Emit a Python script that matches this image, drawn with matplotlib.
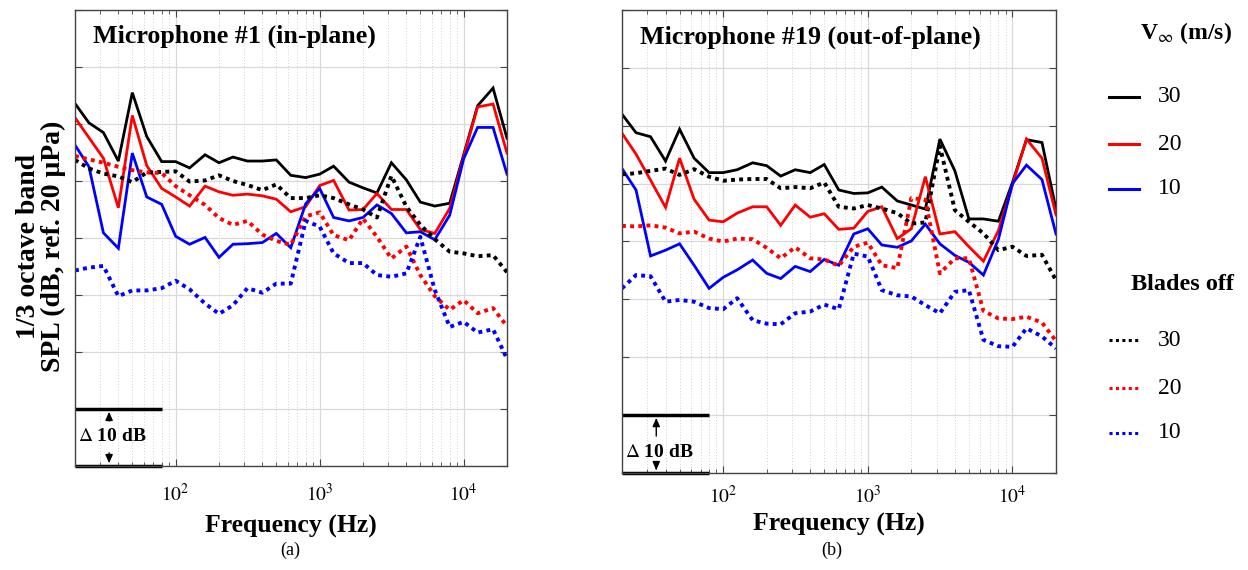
import numpy as np
import matplotlib.pyplot as plt
from matplotlib.lines import Line2D
from matplotlib.ticker import LogLocator, NullFormatter, FixedLocator

plt.rcParams['font.family'] = ['Liberation Serif', 'DejaVu Serif']
plt.rcParams['mathtext.fontset'] = 'stix'

# 1/3 octave band centre frequencies (Hz)
freq = [20, 25, 31.5, 40, 50, 63, 80, 100, 125, 160, 200, 250, 315, 400, 500, 630,
        800, 1000, 1250, 1600, 2000, 2500, 3150, 4000, 5000, 6300, 8000, 10000,
        12500, 16000, 20000]

# microphone #1 (in-plane), relative SPL in dB
m1_on_30 = [63.6, 60.2, 58.5, 53.5, 65.5, 57.8, 53.4, 53.4, 52.3, 54.6, 53.2, 54.2, 53.5, 53.5, 53.7, 51.0,
            50.6, 51.2, 52.6, 49.8, 48.8, 47.9, 53.2, 50.2, 46.3, 45.6, 46.1, 54.6, 63.2, 66.3, 57.5]
m1_on_20 = [61.1, 57.6, 54.0, 45.3, 61.5, 52.7, 48.7, 47.2, 45.6, 49.1, 48.1, 47.5, 47.7, 47.4, 46.8, 44.6,
            45.5, 49.2, 50.1, 44.9, 45.0, 47.8, 45.0, 45.0, 41.5, 40.8, 45.2, 54.3, 63.0, 63.5, 54.9]
m1_on_10 = [56.3, 52.5, 40.9, 38.2, 54.9, 47.2, 45.9, 40.3, 38.9, 40.1, 36.6, 38.9, 39.0, 39.2, 40.8, 38.3,
            46.0, 48.7, 43.6, 43.0, 43.6, 45.8, 44.3, 40.9, 41.1, 39.7, 44.0, 53.9, 59.4, 59.4, 51.2]
m1_off_30 = [53.7, 52.2, 51.3, 50.8, 49.8, 51.5, 51.6, 51.7, 49.9, 50.1, 51.0, 50.0, 49.3, 48.4, 49.4, 47.0,
             47.0, 47.5, 47.0, 45.9, 45.0, 43.6, 50.9, 45.5, 42.3, 39.8, 37.6, 37.3, 36.8, 37.0, 34.0]
m1_off_20 = [54.4, 53.8, 53.2, 52.5, 51.9, 51.5, 51.4, 49.1, 47.5, 45.8, 43.5, 42.3, 43.0, 40.6, 39.5, 38.8,
             43.8, 44.5, 40.5, 39.6, 43.4, 40.2, 36.4, 38.5, 33.5, 29.8, 27.4, 29.1, 26.8, 27.7, 24.5]
m1_off_10 = [34.3, 34.8, 35.1, 29.8, 30.8, 30.8, 31.2, 32.5, 31.0, 28.5, 26.7, 28.2, 31.2, 30.4, 32.0, 32.0,
             43.0, 42.0, 37.3, 35.6, 35.6, 33.5, 33.2, 33.8, 40.2, 30.9, 24.4, 25.3, 23.4, 24.0, 18.8]

# microphone #19 (out-of-plane)
m19_on_30 = [62.0, 58.8, 58.1, 53.9, 59.4, 54.4, 51.9, 51.9, 52.4, 53.6, 53.1, 51.3, 52.4, 51.9, 53.3, 48.9,
             48.3, 48.4, 49.4, 47.0, 46.3, 45.6, 57.7, 52.2, 43.9, 43.9, 43.5, 50.2, 57.6, 57.1, 45.6]
m19_on_20 = [58.7, 55.1, 50.6, 45.9, 54.4, 47.3, 43.7, 43.4, 44.9, 46.0, 46.0, 42.8, 46.3, 44.2, 44.8, 42.1,
             42.3, 45.2, 46.0, 40.5, 42.2, 51.2, 41.3, 41.7, 39.1, 36.6, 41.9, 49.8, 57.7, 54.4, 44.6]
m19_on_10 = [52.6, 48.9, 37.5, 38.5, 39.6, 35.9, 31.9, 33.8, 35.1, 36.8, 34.5, 33.6, 35.7, 34.8, 36.9, 35.9,
             41.3, 42.2, 39.4, 39.0, 40.1, 43.0, 39.6, 37.6, 36.4, 34.2, 40.4, 50.0, 53.2, 50.7, 41.3]
m19_off_30 = [51.6, 51.8, 52.2, 52.6, 51.5, 52.5, 51.2, 50.5, 50.7, 50.8, 50.8, 49.2, 49.4, 49.2, 50.2, 46.0,
              45.7, 46.3, 45.7, 44.9, 43.1, 43.3, 56.5, 45.4, 43.4, 41.4, 38.5, 39.1, 37.5, 37.7, 33.3]
m19_off_20 = [42.7, 42.6, 42.8, 42.4, 41.4, 41.7, 40.5, 40.0, 40.5, 40.4, 38.9, 37.1, 39.0, 37.1, 36.9, 35.8,
              39.1, 39.8, 35.9, 35.4, 47.5, 47.2, 34.5, 37.1, 37.1, 28.0, 26.7, 26.6, 27.0, 26.0, 22.8]
m19_off_10 = [31.9, 34.2, 34.0, 29.6, 29.9, 29.6, 28.5, 28.3, 30.2, 26.4, 25.8, 25.7, 27.6, 27.9, 29.1, 28.3,
              37.9, 37.4, 31.6, 30.7, 30.5, 29.0, 27.6, 31.3, 31.6, 23.0, 21.9, 21.8, 25.0, 23.6, 21.5]

speeds = ['30', '20', '10']
colors = ['#000000', '#ff0000', '#0000ff']
titles = ['Microphone #1 (in-plane)', 'Microphone #19 (out-of-plane)']
panel_tags = ['(a)', '(b)']

W, H = 1248, 570
fig = plt.figure(figsize=(W / 100, H / 100), dpi=100)

def px(x, y):
    return x / W, 1 - y / H

ax1 = fig.add_axes([75 / W, 1 - 466 / H, 432 / W, 456 / H])
ax2 = fig.add_axes([622 / W, 1 - 473 / H, 434 / W, 463 / H])

panels = [
    (ax1, [m1_on_30, m1_on_20, m1_on_10], [m1_off_30, m1_off_20, m1_off_10], 12, 7, 5.1),
    (ax2, [m19_on_30, m19_on_20, m19_on_10], [m19_off_30, m19_off_20, m19_off_10], 9, 4, 3.6),
]

dot = (0, (1.0, 1.1))
for i, (ax, on, off, tpad, lpad, ty) in enumerate(panels):
    for ys, c in zip(on, colors):
        ax.plot(freq, ys, color=c, lw=2.0, solid_joinstyle='miter')
    for ys, c in zip(off, colors):
        ax.plot(freq, ys, color=c, lw=2.8, linestyle=dot)
    ax.set_xscale('log')
    ax.set_xlim(20, 20000)
    ax.set_ylim(0, 80)
    ax.set_yticks(np.arange(0, 81, 10))
    ax.set_yticklabels([])
    ax.xaxis.set_major_locator(FixedLocator([100, 1000, 10000]))
    ax.xaxis.set_minor_locator(LogLocator(base=10, subs=np.arange(2, 10), numticks=20))
    ax.xaxis.set_minor_formatter(NullFormatter())
    ax.set_xticklabels([r'$10^2$', r'$10^3$', r'$10^4$'])
    ax.tick_params(axis='both', which='both', direction='in', top=True, right=True,
                   color='#444444', labelsize=14)
    ax.tick_params(axis='both', which='major', length=5)
    ax.tick_params(axis='x', which='minor', length=3)
    ax.tick_params(axis='x', pad=tpad)
    ax.grid(True, which='major', color='#d9d9d9', lw=0.9)
    ax.grid(True, which='minor', axis='x', color='#d0d0d0', lw=0.7, linestyle=(0, (1, 2)))
    ax.set_axisbelow(True)
    for s in ax.spines.values():
        s.set_color('#444444')
        s.set_linewidth(1.0)
    ax.text(0.042, 0.942, titles[i], transform=ax.transAxes, fontsize=18.7,
            fontweight='bold', ha='left', va='center')
    ax.set_xlabel('Frequency (Hz)', fontsize=18.5, fontweight='bold', labelpad=lpad)

    # 10 dB scale bar
    ax.plot([20, 80], [10, 10], color='k', lw=2.5, clip_on=False, solid_capstyle='butt')
    ax.plot([20, 80], [0, 0], color='k', lw=2.5, clip_on=False, solid_capstyle='butt')
    ax.text(21, ty, r'$\Delta$ 10 dB', fontsize=14, fontweight='bold', ha='left', va='center')
    ax.annotate('', xy=(34.5, 10), xytext=(34.5, ty + 2.3),
                arrowprops=dict(arrowstyle='-|>,head_length=0.5,head_width=0.22', color='k', lw=1.0))
    ax.annotate('', xy=(34.5, 0), xytext=(34.5, ty - 2.3),
                arrowprops=dict(arrowstyle='-|>,head_length=0.5,head_width=0.22', color='k', lw=1.0))

fig.text(*px(290, 550), panel_tags[0], fontsize=13, ha='center', va='center')
fig.text(*px(832, 550), panel_tags[1], fontsize=13, ha='center', va='center')

fig.text(*px(41, 246), '1/3 octave band\nSPL (dB, ref. 20 \u03bcPa)', rotation=90,
         fontsize=20, fontweight='bold', ha='center', va='center', multialignment='center',
         linespacing=1.0)

# legend (drawn in figure space)
fig.text(*px(1140, 33), r'V$_\infty$ (m/s)', fontsize=17, fontweight='bold', ha='left', va='center')
for c, lab, y in zip(colors, speeds, [97, 144, 189]):
    fig.add_artist(Line2D([1109 / W, 1139 / W], [1 - y / H] * 2, color=c, lw=2.2,
                          transform=fig.transFigure))
    fig.text(*px(1158, y), lab, fontsize=17, ha='left', va='center')
fig.text(*px(1131, 285), 'Blades off', fontsize=17.5, fontweight='bold', ha='left', va='center')
for c, lab, y in zip(colors, speeds, [340, 388, 433]):
    fig.add_artist(Line2D([1109 / W, 1139 / W], [1 - y / H] * 2, color=c, lw=2.2,
                          linestyle=dot, transform=fig.transFigure))
    fig.text(*px(1158, y), lab, fontsize=17, ha='left', va='center')

fig.savefig('out.png', dpi=100)
